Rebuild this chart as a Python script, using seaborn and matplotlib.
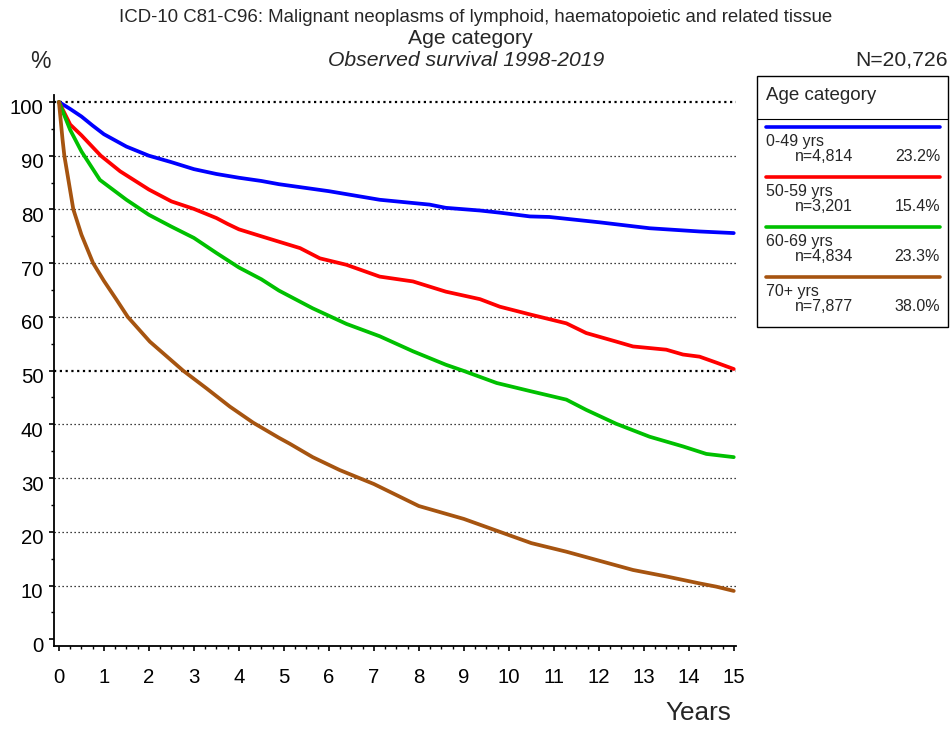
import numpy as np
import pandas as pd
import matplotlib
matplotlib.use("Agg")
import matplotlib.pyplot as plt
import matplotlib.transforms as mtransforms
from matplotlib.lines import Line2D
from matplotlib.patches import Rectangle
import seaborn as sns

# Observed survival (%) by years since diagnosis, per age category
groups = ["0-49 yrs", "50-59 yrs", "60-69 yrs", "70+ yrs"]
counts = ["n=4,814", "n=3,201", "n=4,834", "n=7,877"]
shares = ["23.2%", "15.4%", "23.3%", "38.0%"]
colors = ["#0000FF", "#FF0000", "#00C000", "#A65410"]

t_0_49 = [0, 0.25, 0.5, 0.75, 1, 1.5, 2, 2.5, 3, 3.5, 4, 4.5, 4.89, 6, 7.13, 8.24, 8.6, 9.36,
          9.8, 10.47, 10.9, 12.02, 13.13, 14.24, 15]
s_0_49 = [100, 98.7, 97.3, 95.6, 94.0, 91.7, 90.0, 88.8, 87.5, 86.6, 85.9, 85.3, 84.7, 83.4,
          81.8, 80.9, 80.3, 79.8, 79.4, 78.7, 78.6, 77.6, 76.5, 75.9, 75.6]

t_50_59 = [0, 0.25, 0.5, 0.93, 1.36, 2, 2.5, 3, 3.5, 3.75, 4, 4.5, 4.89, 5.36, 5.8, 6.39, 7.13,
           7.87, 8.6, 9.36, 9.8, 10.5, 11.28, 11.72, 12.39, 12.76, 13.5, 13.87, 14.24, 14.61, 15]
s_50_59 = [100, 95.8, 93.8, 90.0, 87.1, 83.7, 81.5, 80.1, 78.4, 77.3, 76.3, 75.0, 74.0, 72.8,
           70.9, 69.7, 67.5, 66.6, 64.7, 63.3, 61.9, 60.4, 58.8, 57.0, 55.4, 54.5, 53.9, 53.0,
           52.6, 51.5, 50.3]

t_60_69 = [0, 0.25, 0.5, 0.91, 1.5, 2, 2.5, 3, 3.5, 4, 4.5, 4.89, 5.64, 6.39, 7.13, 7.87, 8.6,
           8.98, 9.73, 10.47, 11.28, 11.72, 12.39, 13.13, 13.87, 14.39, 15]
s_60_69 = [100, 94.8, 90.8, 85.5, 81.8, 79.0, 76.8, 74.7, 71.9, 69.2, 67.0, 64.9, 61.6, 58.7,
           56.4, 53.6, 51.1, 50.0, 47.7, 46.2, 44.6, 42.7, 40.1, 37.7, 35.9, 34.5, 33.9]

t_70 = [0, 0.04, 0.08, 0.12, 0.21, 0.32, 0.5, 0.76, 1, 1.28, 1.53, 2.02, 2.76, 3.28, 3.8,
        4.32, 4.89, 5.13, 5.64, 6.24, 7, 8, 9, 9.8, 10.5, 11.28, 12.02, 12.76, 13.5, 14.24,
        14.61, 15]
s_70 = [100, 96.5, 93.0, 90.0, 85.5, 80.0, 75.3, 70.0, 66.7, 63.2, 60.0, 55.4, 50.0, 46.7,
        43.3, 40.3, 37.5, 36.4, 33.9, 31.5, 28.9, 24.8, 22.4, 20.0, 17.9, 16.3, 14.6, 12.9,
        11.7, 10.4, 9.8, 9.0]

title_lines = ["ICD-10 C81-C96: Malignant neoplasms of lymphoid, haematopoietic and related tissue",
               "Age category", "Observed survival 1998-2019"]
total_label = "N=20,726"
legend_title = "Age category"
x_ticks = list(range(0, 16))
y_ticks = list(range(0, 101, 10))

frames = []
for g, tt, ss in zip(groups, [t_0_49, t_50_59, t_60_69, t_70],
                     [s_0_49, s_50_59, s_60_69, s_70]):
    frames.append(pd.DataFrame({"years": tt, "survival": ss, "group": g}))
df = pd.concat(frames, ignore_index=True)

sns.set_style("white")
plt.rcParams["font.family"] = ["Liberation Sans", "DejaVu Sans"]

W, H = 951, 729
fig = plt.figure(figsize=(W / 100, H / 100), dpi=100)


def fx(px):
    return px / W


def fy(py):
    return 1 - py / H


ax_left, ax_right, ax_top, ax_bottom = 54, 736, 95, 646
ax = fig.add_axes([fx(ax_left), fy(ax_bottom), fx(ax_right - ax_left), (ax_bottom - ax_top) / H])

# dotted reference lines, heavier at 50 and 100
for v in y_ticks[1:]:
    heavy = v in (50, 100)
    ax.axhline(v, color="black", lw=1.6 if heavy else 0.9,
               linestyle=(0, (1, 1.6)) if heavy else (0, (1, 2.2)), zorder=1)

sns.lineplot(data=df, x="years", y="survival", hue="group", palette=colors,
             hue_order=groups, linewidth=2.7, legend=False, ax=ax, zorder=3,
             solid_capstyle="round", solid_joinstyle="round")

ax.set_xlim(-0.11, 15.05)
ax.set_ylim(-1.25, 101.3)
ax.set_xticks(x_ticks)
ax.set_yticks(y_ticks)
ax.set_xticks(np.arange(0, 15.01, 0.25), minor=True)
ax.set_yticks(np.arange(0, 101, 5), minor=True)
ax.tick_params(axis="both", which="major", direction="out", length=3.8, width=1.2,
               labelsize=14.7, color="black", labelcolor="black")
ax.tick_params(axis="both", which="minor", direction="out", length=2.2, width=1.0,
               color="black")
ax.tick_params(axis="x", which="major", pad=12)
ax.tick_params(axis="y", which="major", pad=3.9)
ax.tick_params(bottom=True, left=True, which="both")
# value labels sit a little below their tick marks
shift = mtransforms.ScaledTranslation(0, -0.05, fig.dpi_scale_trans)
for lab in ax.get_yticklabels():
    lab.set_transform(lab.get_transform() + shift)
for side in ["top", "right"]:
    ax.spines[side].set_visible(False)
for side in ["left", "bottom"]:
    ax.spines[side].set_color("black")
    ax.spines[side].set_linewidth(1.3)
ax.set_xlabel("")
ax.set_ylabel("")

# titles
fig.text(fx(476), fy(17.5), title_lines[0], ha="center", va="center", fontsize=13.4)
fig.text(fx(470), fy(38), title_lines[1], ha="center", va="center", fontsize=15.2)
fig.text(fx(466), fy(60), title_lines[2], ha="center", va="center", fontsize=15.2,
         style="italic")
fig.text(fx(40), fy(62), "%", ha="center", va="center", fontsize=16.5)
fig.text(fx(948), fy(60), total_label, ha="right", va="center", fontsize=15.2)
fig.text(fx(731), fy(713), "Years", ha="right", va="center", fontsize=18.8)

# legend panel
box_l, box_r, box_t, box_b = 757, 948, 76, 327
fig.add_artist(Rectangle((fx(box_l), fy(box_b)), fx(box_r - box_l), (box_b - box_t) / H,
                         transform=fig.transFigure, fill=False, edgecolor="black", lw=1.0))
fig.add_artist(Line2D([fx(box_l), fx(box_r)], [fy(119), fy(119)],
                      transform=fig.transFigure, color="black", lw=0.8))
fig.text(fx(766), fy(96), legend_title, ha="left", va="center", fontsize=13.5)
for i, (g, n, p, c) in enumerate(zip(groups, counts, shares, colors)):
    y0 = 126.7 + i * 50
    fig.add_artist(Line2D([fx(766), fx(940)], [fy(y0), fy(y0)], transform=fig.transFigure,
                          color=c, lw=2.6))
    fig.text(fx(766), fy(y0 + 14.5), g, ha="left", va="center", fontsize=11.5)
    fig.text(fx(795), fy(y0 + 29.5), n, ha="left", va="center", fontsize=11.5)
    fig.text(fx(940), fy(y0 + 29.5), p, ha="right", va="center", fontsize=11.5)

fig.savefig("out.png", dpi=100, facecolor="white")
